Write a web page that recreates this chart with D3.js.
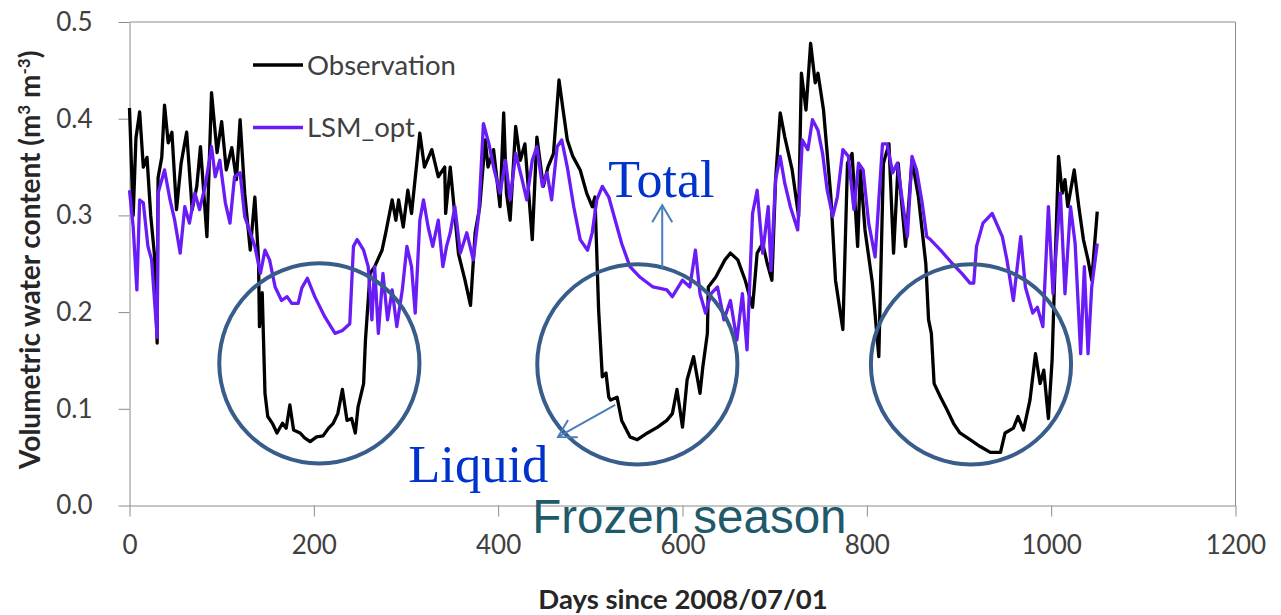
<!DOCTYPE html>
<html>
<head>
<meta charset="utf-8">
<script src="https://cdn.jsdelivr.net/npm/d3@7"></script>
<style>
  body { margin: 0; background: #fff; }
  svg { display: block; }
</style>
</head>
<body>
<div id="chart"></div>
<script>
// --- DATA (day since 2008/07/01, volumetric water content) ---
const observation = [
  [0,0.411],[4,0.30],[7,0.38],[11,0.407],[15,0.35],[19,0.36],[23,0.30],[27,0.26],[30,0.168],
  [31,0.339],[35,0.36],[38,0.414],[42,0.375],[46,0.386],[51,0.306],[56,0.354],[62,0.386],
  [68,0.306],[73,0.33],[77,0.371],[84,0.278],[89,0.427],[95,0.365],[100,0.397],[105,0.347],
  [111,0.37],[116,0.337],[120,0.399],[125,0.323],[131,0.264],[136,0.319],[140,0.254],[141,0.185],
  [144,0.22],[147,0.116],[150,0.092],[155,0.085],[160,0.075],[166,0.085],[170,0.08],[174,0.104],
  [178,0.078],[185,0.075],[190,0.07],[196,0.066],[203,0.071],[210,0.072],[216,0.08],[221,0.085],
  [226,0.095],[231,0.12],[236,0.088],[241,0.09],[245,0.075],[248,0.102],[254,0.126],[256,0.171],
  [261,0.24],[266,0.247],[274,0.264],[278,0.282],[285,0.316],[289,0.295],[292,0.316],[297,0.288],
  [302,0.326],[306,0.302],[312,0.357],[315,0.385],[320,0.35],[328,0.368],[335,0.34],[342,0.35],
  [343,0.302],[348,0.35],[357,0.26],[364,0.233],[370,0.207],[375,0.282],[380,0.309],[386,0.378],
  [389,0.35],[395,0.368],[402,0.309],[406,0.406],[409,0.323],[413,0.295],[419,0.392],[424,0.357],
  [429,0.374],[437,0.275],[442,0.381],[449,0.33],[454,0.35],[460,0.364],[466,0.44],[470,0.412],
  [475,0.378],[481,0.361],[489,0.347],[496,0.323],[502,0.309],[505,0.319],[509,0.202],[513,0.133],
  [517,0.137],[520,0.112],[522,0.109],[529,0.112],[534,0.088],[543,0.071],[551,0.068],[562,0.075],
  [573,0.081],[583,0.088],[589,0.095],[594,0.12],[600,0.081],[605,0.13],[612,0.154],[619,0.116],
  [622,0.143],[627,0.178],[628,0.226],[636,0.236],[646,0.254],[652,0.261],[660,0.254],[668,0.233],
  [676,0.205],[681,0.261],[687,0.271],[692,0.25],[697,0.233],[701,0.337],[706,0.406],[711,0.381],
  [719,0.347],[726,0.299],[729,0.447],[734,0.409],[739,0.478],[744,0.437],[747,0.447],[753,0.409],
  [761,0.319],[766,0.233],[774,0.182],[779,0.354],[784,0.364],[790,0.268],[793,0.347],[798,0.285],
  [806,0.23],[813,0.154],[818,0.354],[824,0.374],[829,0.261],[834,0.354],[842,0.268],[849,0.357],
  [856,0.319],[864,0.25],[867,0.192],[870,0.178],[873,0.126],[880,0.112],[887,0.099],[894,0.085],
  [901,0.075],[912,0.068],[923,0.061],[934,0.055],[945,0.055],[950,0.075],[959,0.08],[964,0.092],
  [970,0.078],[977,0.109],[983,0.157],[988,0.126],[992,0.14],[997,0.09],[1001,0.15],[1003,0.212],
  [1005,0.271],[1008,0.361],[1012,0.323],[1015,0.337],[1018,0.309],[1025,0.347],[1030,0.309],
  [1035,0.275],[1040,0.254],[1044,0.233],[1050,0.304]
];

const lsmOpt = [
  [0,0.326],[4,0.288],[8,0.223],[11,0.316],[15,0.313],[20,0.268],[24,0.254],[30,0.174],[31,0.323],
  [38,0.347],[44,0.316],[49,0.295],[55,0.261],[60,0.309],[65,0.292],[71,0.323],[76,0.306],[82,0.33],
  [89,0.371],[93,0.34],[98,0.357],[104,0.313],[109,0.292],[114,0.34],[120,0.344],[125,0.299],
  [131,0.282],[136,0.268],[142,0.24],[147,0.264],[152,0.254],[158,0.226],[165,0.212],[171,0.216],
  [176,0.209],[183,0.209],[187,0.225],[193,0.235],[201,0.216],[212,0.195],[223,0.178],[231,0.181],
  [239,0.188],[243,0.268],[247,0.275],[254,0.264],[259,0.247],[263,0.192],[266,0.247],[270,0.178],
  [275,0.24],[280,0.192],[285,0.223],[290,0.185],[296,0.223],[301,0.268],[306,0.247],[310,0.199],
  [315,0.295],[319,0.316],[324,0.288],[329,0.268],[335,0.295],[340,0.247],[344,0.268],[348,0.282],
  [353,0.309],[359,0.261],[366,0.282],[373,0.254],[379,0.302],[384,0.395],[390,0.374],[395,0.35],
  [402,0.323],[408,0.357],[413,0.316],[419,0.364],[426,0.337],[431,0.316],[437,0.357],[442,0.371],
  [448,0.33],[453,0.344],[458,0.316],[464,0.371],[469,0.378],[475,0.35],[482,0.309],[489,0.275],
  [497,0.264],[502,0.282],[507,0.316],[513,0.33],[520,0.319],[527,0.295],[534,0.271],[543,0.247],
  [554,0.236],[568,0.226],[583,0.223],[589,0.216],[600,0.233],[608,0.226],[614,0.264],[619,0.219],
  [625,0.199],[631,0.219],[638,0.226],[645,0.192],[652,0.212],[659,0.171],[665,0.219],[670,0.161],
  [676,0.302],[681,0.326],[687,0.261],[693,0.309],[696,0.243],[701,0.337],[706,0.361],[711,0.333],
  [717,0.309],[725,0.285],[730,0.378],[736,0.368],[741,0.399],[747,0.388],[752,0.364],[757,0.326],
  [763,0.299],[768,0.319],[774,0.368],[780,0.361],[786,0.306],[791,0.354],[796,0.347],[802,0.292],
  [809,0.257],[817,0.374],[822,0.374],[828,0.344],[833,0.354],[838,0.319],[844,0.278],[849,0.361],
  [854,0.347],[860,0.313],[865,0.278],[869,0.275],[880,0.264],[893,0.25],[903,0.24],[912,0.23],
  [916,0.23],[919,0.268],[926,0.292],[936,0.302],[947,0.278],[952,0.254],[959,0.212],[967,0.278],
  [972,0.226],[980,0.199],[985,0.205],[991,0.185],[997,0.309],[1002,0.219],[1010,0.323],[1015,0.219],
  [1021,0.309],[1026,0.271],[1032,0.157],[1036,0.247],[1040,0.157],[1044,0.226],[1050,0.271]
];

const seriesNames = ["Observation", "LSM_opt"];
const xTicks = [0, 200, 400, 600, 800, 1000, 1200];
const yTicks = [0, 0.1, 0.2, 0.3, 0.4, 0.5];

// --- SETUP ---
const width = 1281;
const height = 615;
const margin = { top: 22, right: 45.5, bottom: 109.5, left: 129.5 };

const COLORS = {
  obs: "#000000",
  lsm: "#6a1cf6",
  axis: "#8c8c8c",
  tick: "#404040",
  title: "#262626",
  circle: "#385d8a",
  arrow: "#4a7ebb",
  note: "#0033cc",
  season: "#1f5a6b"
};

const svg = d3.select("#chart")
  .append("svg")
  .attr("width", width)
  .attr("height", height)
  .style("background", "#fff");

const x = d3.scaleLinear()
  .domain([0, 1200])
  .range([margin.left, width - margin.right]);

const y = d3.scaleLinear()
  .domain([0, 0.5])
  .range([height - margin.bottom, margin.top]);

// --- AXES ---
const xAxis = svg.append("g")
  .attr("transform", `translate(0,${y(0)})`)
  .call(d3.axisBottom(x).tickValues(xTicks).tickFormat(d3.format("d"))
    .tickSize(11).tickSizeOuter(0).tickPadding(19));

const yAxis = svg.append("g")
  .attr("transform", `translate(${x(0)},0)`)
  .call(d3.axisLeft(y).tickValues(yTicks).tickFormat(d3.format(".1f"))
    .tickSize(11).tickSizeOuter(0).tickPadding(26));

[xAxis, yAxis].forEach(g => {
  g.select(".domain").attr("stroke", COLORS.axis);
  g.selectAll(".tick line").attr("stroke", COLORS.axis);
  g.selectAll(".tick text")
    .attr("fill", COLORS.tick)
    .attr("font-family", "Lato, sans-serif")
    .attr("font-size", "26px");
});

// plot frame (top + right)
svg.append("path")
  .attr("d", `M${x(0)},${y(0.5)}H${x(1200)}V${y(0)}`)
  .attr("fill", "none")
  .attr("stroke", COLORS.axis);

// --- LINES ---
const line = d3.line()
  .x(d => x(d[0]))
  .y(d => y(d[1]));

svg.append("path")
  .datum(observation)
  .attr("d", line)
  .attr("fill", "none")
  .attr("stroke", COLORS.obs)
  .attr("stroke-width", 3.3)
  .attr("stroke-linejoin", "round");

svg.append("path")
  .datum(lsmOpt)
  .attr("d", line)
  .attr("fill", "none")
  .attr("stroke", COLORS.lsm)
  .attr("stroke-width", 3.3)
  .attr("stroke-linejoin", "round");

// --- LEGEND ---
const legend = svg.append("g");
seriesNames.forEach((name, i) => {
  const ly = 65 + i * 62.5;
  legend.append("line")
    .attr("x1", 253).attr("x2", 303)
    .attr("y1", ly).attr("y2", ly)
    .attr("stroke", i === 0 ? COLORS.obs : COLORS.lsm)
    .attr("stroke-width", 3.3);
  legend.append("text")
    .attr("x", 307)
    .attr("y", ly + 9.5)
    .attr("fill", COLORS.tick)
    .attr("font-family", "Lato, sans-serif")
    .attr("font-size", "27.5px")
    .text(name);
});

// --- AXIS TITLES ---
svg.append("text")
  .attr("x", 683)
  .attr("y", 609)
  .attr("text-anchor", "middle")
  .attr("fill", COLORS.title)
  .attr("font-family", "Lato, sans-serif")
  .attr("font-weight", 700)
  .attr("font-size", "27.5px")
  .text("Days since 2008/07/01");

const yTitle = svg.append("text")
  .attr("transform", `translate(40,${(y(0) + y(0.5)) / 2 - 4}) rotate(-90)`)
  .attr("text-anchor", "middle")
  .attr("fill", COLORS.title)
  .attr("font-family", "Lato, sans-serif")
  .attr("font-weight", 700)
  .attr("font-size", "28px");
yTitle.append("tspan").text("Volumetric water content (m");
yTitle.append("tspan").attr("baseline-shift", "super").attr("font-size", "17px").text("3");
yTitle.append("tspan").text(" m");
yTitle.append("tspan").attr("baseline-shift", "super").attr("font-size", "17px").text("-3");
yTitle.append("tspan").text(")");

// --- ANNOTATIONS (frozen season) ---
const circleR = y(0) - y(0.1035);
[[206, 0.147], [551, 0.146], [913, 0.146]].forEach(c => {
  svg.append("circle")
    .attr("cx", x(c[0]))
    .attr("cy", y(c[1]))
    .attr("r", circleR)
    .attr("fill", "none")
    .attr("stroke", COLORS.circle)
    .attr("stroke-width", 4);
});

svg.append("defs").append("marker")
  .attr("id", "open-arrow")
  .attr("markerUnits", "userSpaceOnUse")
  .attr("viewBox", "-20 -12 22 24")
  .attr("refX", 0).attr("refY", 0)
  .attr("markerWidth", 22).attr("markerHeight", 24)
  .attr("orient", "auto")
  .append("path")
  .attr("d", "M-17,-10L0,0L-17,10")
  .attr("fill", "none")
  .attr("stroke", COLORS.arrow)
  .attr("stroke-width", 2);

[[578, 0.2457, 578, 0.3106], [527, 0.104, 465, 0.0709]].forEach(a => {
  svg.append("line")
    .attr("x1", x(a[0])).attr("y1", y(a[1]))
    .attr("x2", x(a[2])).attr("y2", y(a[3]))
    .attr("stroke", COLORS.arrow)
    .attr("stroke-width", 2)
    .attr("marker-end", "url(#open-arrow)");
});

svg.append("text")
  .attr("x", x(519.5)).attr("y", y(0.319))
  .attr("fill", COLORS.note)
  .attr("font-family", "'Liberation Serif', 'Times New Roman', serif")
  .attr("font-size", "52px")
  .text("Total");

svg.append("text")
  .attr("x", x(302.5)).attr("y", y(0.0243))
  .attr("fill", COLORS.note)
  .attr("font-family", "'Liberation Serif', 'Times New Roman', serif")
  .attr("font-size", "52.5px")
  .text("Liquid");

svg.append("text")
  .attr("x", x(437)).attr("y", y(-0.0284))
  .attr("fill", COLORS.season)
  .attr("font-family", "'Liberation Sans', Arial, sans-serif")
  .attr("font-size", "47.5px")
  .text("Frozen season");
</script>
</body>
</html>
